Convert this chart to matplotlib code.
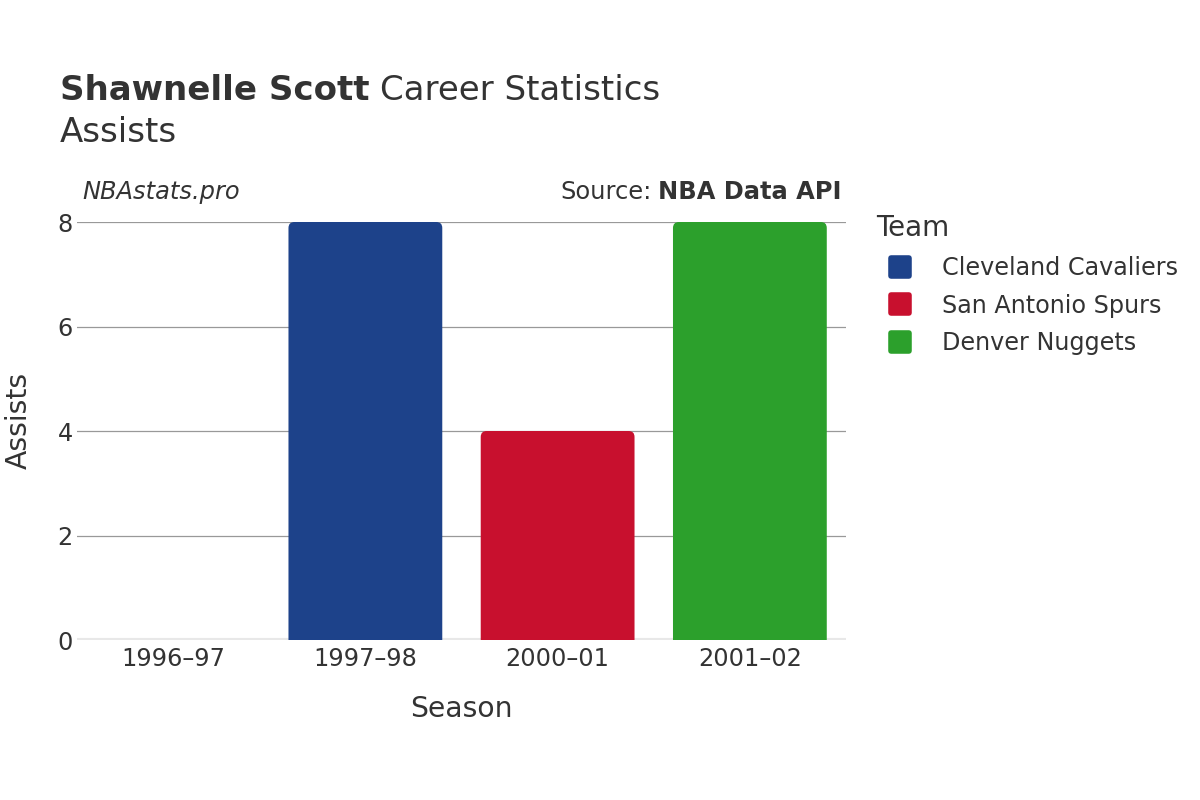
import matplotlib
matplotlib.use("Agg")
import matplotlib.pyplot as plt
from matplotlib.patches import PathPatch
from matplotlib.path import Path
from matplotlib.lines import Line2D
from matplotlib.markers import MarkerStyle

seasons = ["1996\u201397", "1997\u201398", "2000\u201301", "2001\u201302"]
assists = [0, 8, 4, 8]
teams = ["Cleveland Cavaliers", "Cleveland Cavaliers", "San Antonio Spurs", "Denver Nuggets"]
legend_teams = ["Cleveland Cavaliers", "San Antonio Spurs", "Denver Nuggets"]
team_colors = {"Cleveland Cavaliers": "#1d428a", "San Antonio Spurs": "#c8102e", "Denver Nuggets": "#2ca02c"}
yticks = [0, 2, 4, 6, 8]

plt.rcParams['font.family'] = ['DejaVu Sans']
txt = "#333333"

fig = plt.figure(figsize=(12, 8), dpi=100)
ax = fig.add_axes([77/1200, 1-640/800, (846-77)/1200, (640-222)/800])

x = list(range(len(seasons)))
ax.set_xlim(-0.5, 3.5)
ax.set_ylim(0, 8)
bars = ax.bar(x, assists, width=0.8, color=[team_colors[t] for t in teams], zorder=3)

# rounded top corners (radius in pixels converted to data units)
fig.canvas.draw()
inv = ax.transData.inverted()
p0 = inv.transform((0, 0))
p1 = inv.transform((1, 1))
dx_px, dy_px = p1[0] - p0[0], p1[1] - p0[1]
rad = 6
for b in bars:
    h = b.get_height()
    fc = b.get_facecolor()
    b.set_visible(False)
    if h <= 0:
        continue
    x0, y0, w = b.get_x(), b.get_y(), b.get_width()
    x1, y1 = x0 + w, y0 + h
    rx, ry = rad * dx_px, rad * dy_px
    verts = [(x0, y0), (x0, y1 - ry), (x0, y1), (x0 + rx, y1), (x1 - rx, y1), (x1, y1), (x1, y1 - ry),
             (x1, y0), (x0, y0)]
    codes = [Path.MOVETO, Path.LINETO, Path.CURVE3, Path.CURVE3, Path.LINETO, Path.CURVE3, Path.CURVE3,
             Path.LINETO, Path.CLOSEPOLY]
    ax.add_patch(PathPatch(Path(verts, codes), fc=fc, ec='none', zorder=3))

ax.set_yticks(yticks)
ax.set_xticks(x)
ax.set_xticklabels(seasons)
ax.grid(axis='y', color='#999999', linewidth=0.9, zorder=0)
ax.axhline(0, color='#e8e8e8', linewidth=3, zorder=2)
ax.set_axisbelow(True)
for s in ax.spines.values():
    s.set_visible(False)
ax.tick_params(axis='both', length=0, labelsize=17.3, colors=txt)
ax.tick_params(axis='x', pad=5)
ax.tick_params(axis='y', pad=3)
ax.set_xlabel("Season", fontsize=20.3, color=txt, labelpad=17)
ax.set_ylabel("Assists", fontsize=20.3, color=txt, labelpad=18)
ax.yaxis.label.set_y((640 - 420) / 418)

# Title
t1 = fig.text(60/1200, 1-90/800, "Shawnelle Scott", fontsize=24.5, fontweight='bold', color=txt, va='center')
fig.canvas.draw()
r = fig.canvas.get_renderer()
bb = t1.get_window_extent(r)
fig.text(bb.x1/1200 + 0.009, 1-90/800, "Career Statistics", fontsize=24.5, color=txt, va='center')
fig.text(60/1200, 1-133/800, "Assists", fontsize=24.5, color=txt, va='center')

fig.text(82/1200, 1-192/800, "NBAstats.pro", fontsize=17.4, style='italic', color=txt, va='center')
t2 = fig.text(842/1200, 1-192/800, "NBA Data API", fontsize=17.4, fontweight='bold', color=txt, va='center', ha='right')
fig.canvas.draw()
bb2 = t2.get_window_extent(r)
fig.text(bb2.x0/1200 - 0.006, 1-192/800, "Source:", fontsize=17.4, color=txt, va='center', ha='right')

handles = [Line2D([0], [0], marker=MarkerStyle('s', joinstyle='round'), linestyle='none', markersize=13,
                  markeredgewidth=4, markerfacecolor=team_colors[t], markeredgecolor=team_colors[t])
           for t in legend_teams]
leg = fig.legend(handles, legend_teams, loc='upper left', bbox_to_anchor=(855/1200, 1-193/800), frameon=False,
                 fontsize=17.2, title="Team", title_fontsize=20, labelspacing=0.57, handletextpad=0.73,
                 alignment='left')
for tx in leg.get_texts():
    tx.set_color(txt)
leg.get_title().set_color(txt)

fig.savefig("out.png", dpi=100, facecolor='white')
